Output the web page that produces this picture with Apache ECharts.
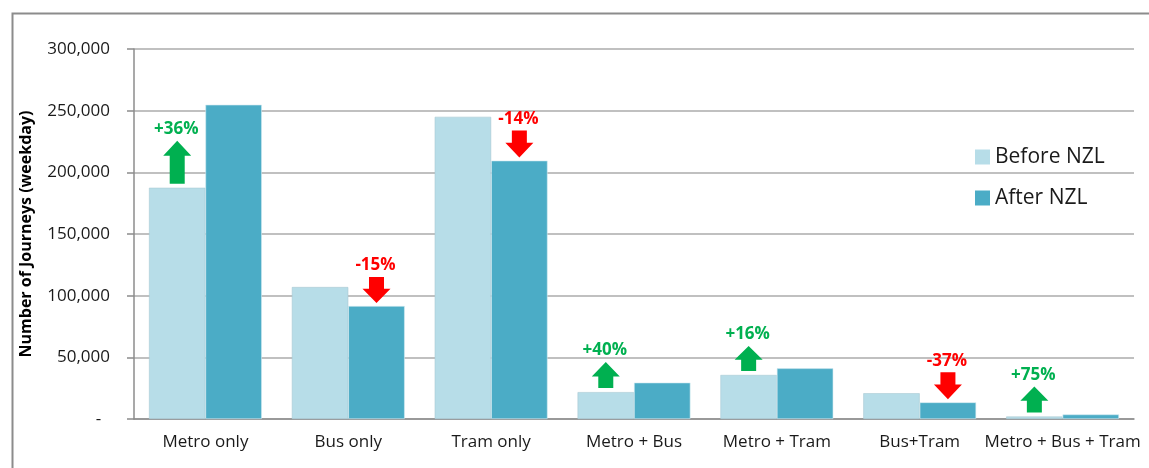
<!DOCTYPE html>
<html>
<head>
<meta charset="utf-8">
<script src="https://cdn.jsdelivr.net/npm/echarts@6/dist/echarts.min.js"></script>
<style>
html,body{margin:0;padding:0;background:#fff;}
#c{width:1149px;height:468px;}
</style>
</head>
<body>
<div id="c"></div>
<script>
const categories = ['Metro only', 'Bus only', 'Tram only', 'Metro + Bus', 'Metro + Tram', 'Bus+Tram', 'Metro + Bus + Tram'];
const beforeNZL = [187500, 107000, 245000, 21800, 35700, 20900, 2000];
const afterNZL = [254800, 91600, 209500, 29500, 41100, 13500, 3700];
const changeLabels = ['+36%', '-15%', '-14%', '+40%', '+16%', '-37%', '+75%'];
const yTicks = [0, 50000, 100000, 150000, 200000, 250000, 300000];

const FONT = '"Open Sans", "Noto Sans", sans-serif';
const GREEN = '#00b050', RED = '#ff0000';
const arrowLen = [43, 26, 27, 26, 25, 27, 26];

function fmt(v) {
  if (v === 0) return '-  ';
  return v.toString().replace(/\B(?=(\d{3})+(?!\d))/g, ',');
}

const chart = echarts.init(document.getElementById('c'), null, {renderer: 'canvas'});

function renderArrow(params, api) {
  const i = params.dataIndex;
  const up = afterNZL[i] > beforeNZL[i];
  const center = api.coord([i, 0]);
  const catW = api.size([1, 0])[0];
  const bw = catW * (1 - 0.21) / 2;
  const cx = up ? center[0] - bw / 2 : center[0] + bw / 2;
  const L = arrowLen[i];
  let ty, by;
  if (up) {
    by = api.coord([i, beforeNZL[i]])[1] - 4;
    ty = by - L;
  } else {
    const tip = api.coord([i, afterNZL[i]])[1] - 3;
    ty = tip - L;
    by = tip;
  }
  const hw = 14, sw = 7.5;
  const h = Math.min(15, L * 0.55);
  let pts;
  if (up) {
    pts = [[cx, ty], [cx + hw, ty + h], [cx + sw, ty + h], [cx + sw, by], [cx - sw, by], [cx - sw, ty + h], [cx - hw, ty + h]];
  } else {
    pts = [[cx - sw, ty], [cx + sw, ty], [cx + sw, by - h], [cx + hw, by - h], [cx, by], [cx - hw, by - h], [cx - sw, by - h]];
  }
  const col = up ? GREEN : RED;
  return {
    type: 'group',
    children: [
      {type: 'polygon', shape: {points: pts}, style: {fill: col}},
      {type: 'text', style: {text: changeLabels[i], x: cx - 1, y: ty - 3, textAlign: 'center', textVerticalAlign: 'bottom',
        fill: col, font: 'bold 17px ' + FONT}}
    ]
  };
}

const option = {
  backgroundColor: '#fff',
  animation: false,
  graphic: [{
    type: 'rect', left: 10, top: 11, shape: {x: 0, y: 0, width: 1300, height: 600},
    style: {fill: 'none', stroke: '#8c8c8c', lineWidth: 2}, silent: true, z: 100
  }],
  grid: {left: 134, right: 15, top: 49, bottom: 49, containLabel: false},
  legend: {
    data: ['Before NZL', 'After NZL'],
    orient: 'vertical',
    left: 970, top: 140,
    itemWidth: 15, itemHeight: 15, itemGap: 17,
    itemStyle: {borderWidth: 0},
    icon: 'rect',
    textStyle: {fontFamily: FONT, fontSize: 21, color: '#1a1a1a', lineHeight: 24, padding: [0, 0, 0, 0]}
  },
  xAxis: {
    type: 'category',
    data: categories,
    axisLine: {lineStyle: {color: '#8c8c8c', width: 1.5}},
    axisTick: {show: false},
    axisLabel: {fontFamily: FONT, fontSize: 17, color: '#1a1a1a', margin: 15, interval: 0}
  },
  yAxis: {
    type: 'value',
    min: 0, max: 300000, interval: 50000,
    name: 'Number of Journeys (weekday)',
    nameLocation: 'middle',
    nameGap: 100,
    nameTextStyle: {fontFamily: FONT, fontSize: 16, fontWeight: 'bold', color: '#000'},
    axisLine: {show: true, lineStyle: {color: '#8c8c8c', width: 1.5}},
    axisTick: {show: true, inside: false, length: 7, lineStyle: {color: '#8c8c8c', width: 1.5}},
    splitLine: {lineStyle: {color: '#ababab', width: 1.5}},
    axisLabel: {fontFamily: FONT, fontSize: 17, color: '#1a1a1a', margin: 24,
      formatter: v => fmt(v)}
  },
  series: [
    {name: 'Before NZL', type: 'bar', data: beforeNZL, barGap: '0%', barCategoryGap: '21%',
      itemStyle: {color: '#b7dde8', borderColor: '#a9c9d3', borderWidth: 0.6}},
    {name: 'After NZL', type: 'bar', data: afterNZL,
      itemStyle: {color: '#4bacc6', borderColor: '#d5ebf1', borderWidth: 0.6}},
    {name: 'arrows', type: 'custom', renderItem: renderArrow, data: categories.map((c, i) => [i, 0]),
      clip: false, z: 10, silent: true}
  ]
};
chart.setOption(option);
</script>
</body>
</html>
